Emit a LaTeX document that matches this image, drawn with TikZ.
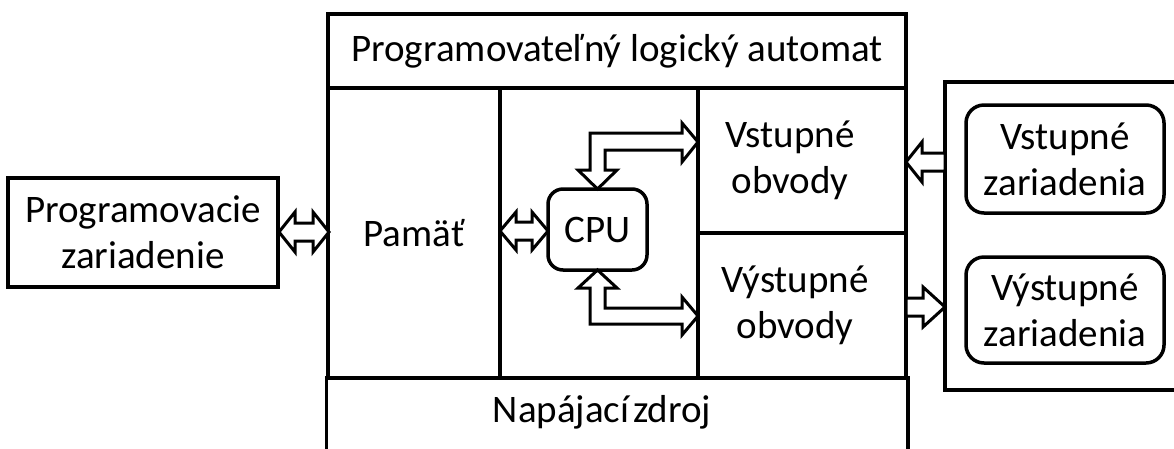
\documentclass[tikz,border=0pt]{standalone}
\usepackage{fontspec}
\setmainfont{Carlito}
\begin{document}
\begin{tikzpicture}[x=1pt,y=-1pt,
  box/.style={draw, line width=3.5pt, inner sep=0pt, align=center, font=\fontsize{39}{46}\selectfont},
  rbox/.style={box, rounded corners=18pt},
  blockarrow/.style={draw, line width=3pt, fill=white, line join=miter}]
\useasboundingbox (0,0) rectangle (1174,448);
\clip (0,0) rectangle (1174,448);
% PLC
\node[box, minimum width=578pt, minimum height=74pt] (title) at (617,51) {Programovateľný logický automat};
\node[box, minimum width=172pt, minimum height=290pt] (mem) at (414,233) {Pamäť};
\node[box, minimum width=198pt, minimum height=290pt] (cpucol) at (599,233) {};
\node[box, minimum width=208pt, minimum height=145pt] (vin) at (802,160.5) {Vstupné\hspace*{24pt}\\obvody\hspace*{24pt}};
\node[box, minimum width=208pt, minimum height=145pt] (vout) at (802,305.5) {Výstupné\hspace*{14pt}\\obvody\hspace*{14pt}};
\node[box, draw=none, minimum width=578pt, minimum height=68pt] (power) at (617,412) {Napájací\hspace{4pt}zdroj\hspace*{30pt}};
\draw[line width=3.5pt] (power.north west) -- ++(0,80);
\draw[line width=3.5pt] (power.north east) -- ++(0,80);
% programming device
\node[box, minimum width=270pt, minimum height=109pt] (prog) at (143,232.5) {Programovacie\\zariadenie};
% external devices
\node[box, minimum width=255pt, minimum height=308pt] (ext) at (1072.5,236) {};
\node[rbox, minimum width=198pt, minimum height=108pt] (vz) at (1065,159) {Vstupné\\zariadenia};
\node[rbox, minimum width=198pt, minimum height=106pt] (vyz) at (1065,310) {Výstupné\\zariadenia};
% CPU
\node[rbox, rounded corners=15pt, minimum width=99pt, minimum height=81pt] (cpu) at (597.5,229.5) {CPU};
% arrows
\draw[blockarrow] (279,232) -- (295,212) -- (295,223) -- (313,223) -- (313,212) -- (329,232) -- (313,252) -- (313,241) -- (295,241) -- (295,252) -- cycle;
\draw[blockarrow] (500,231) -- (516,212) -- (516,222) -- (532,222) -- (532,212) -- (548,231) -- (532,250) -- (532,240) -- (516,240) -- (516,250) -- cycle;
\draw[blockarrow] (597.5,189) -- (617,170) -- (605,170) -- (605,150) -- (682,150) -- (682,162) -- (698,142) -- (682,123) -- (682,133) -- (590,133) -- (590,170) -- (578,170) -- cycle;
\draw[blockarrow] (597.5,270) -- (617,288) -- (605,288) -- (605,308) -- (682,308) -- (682,297) -- (698,316) -- (682,335) -- (682,324) -- (590,324) -- (590,288) -- (578,288) -- cycle;
\draw[blockarrow] (906,162) -- (922,142) -- (922,153) -- (945,153) -- (945,171) -- (922,171) -- (922,182) -- cycle;
\draw[blockarrow] (906,298) -- (923,298) -- (923,287) -- (945,307) -- (923,327) -- (923,316) -- (906,316) -- cycle;
\end{tikzpicture}
\end{document}
